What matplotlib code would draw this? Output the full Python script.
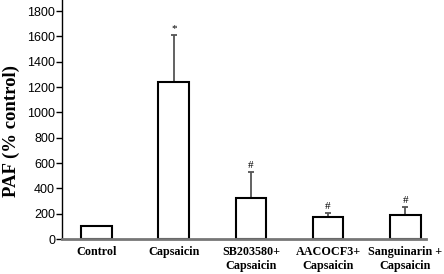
import matplotlib
matplotlib.use("Agg")
import matplotlib.pyplot as plt
import numpy as np

categories = ["Control", "Capsaicin", "SB203580+\nCapsaicin", "AACOCF3+\nCapsaicin", "Sanguinarin +\nCapsaicin"]
values = [100, 1240, 326, 171, 189]
err_upper = [0, 370, 205, 32, 61]
markers = ["", "*", "#", "#", "#"]
yticks = [0, 200, 400, 600, 800, 1000, 1200, 1400, 1600, 1800]

fig = plt.figure(figsize=(4.44, 2.74), dpi=100)
ax = fig.add_axes([62/444, 1 - 239/274, (426-62)/444, 239/274])

x = np.arange(len(categories))
ax.bar(x, values, width=0.4, color="white", edgecolor="black", linewidth=1.5, zorder=2)
ax.errorbar(x, values, yerr=[np.zeros(len(values)), err_upper], fmt="none",
            ecolor="#555555", elinewidth=1.3, capsize=2, capthick=1.3, zorder=1)
for xi, v, e, m in zip(x, values, err_upper, markers):
    if m:
        ax.text(xi, v + e + 15, m, ha="center", va="bottom", fontsize=8,
                family="Liberation Serif", color="black")

ax.set_xlim(-0.45, 4.27)
ax.set_ylim(0, 1800 * 239 / 228)
ax.set_yticks(yticks)
ax.set_yticklabels([str(t) for t in yticks], family="Liberation Sans", fontsize=9)
ax.set_xticks(x)
ax.set_xticklabels(categories, family="Liberation Serif", fontweight="bold", fontsize=8.7,
                   linespacing=1.2)
ax.tick_params(axis="x", length=0, pad=5)
ax.tick_params(axis="y", length=4, width=1, pad=1)
ax.set_ylabel("PAF (% control)", family="Liberation Serif", fontweight="bold", fontsize=13.5)
ax.yaxis.set_label_coords(-0.115, 0.45)

ax.spines["top"].set_visible(False)
ax.spines["right"].set_visible(False)
ax.spines["bottom"].set_color("#777777")
ax.spines["bottom"].set_linewidth(2)
ax.spines["left"].set_linewidth(1)

fig.savefig("out.png", dpi=100)
